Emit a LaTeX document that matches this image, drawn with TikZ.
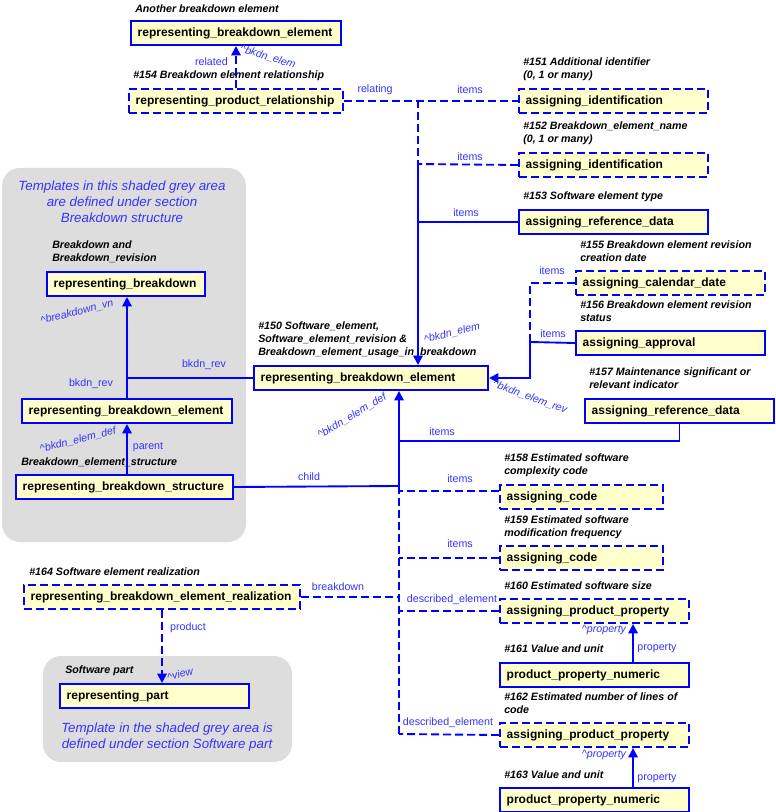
\documentclass[tikz,border=0pt]{standalone}
\usepackage{fontspec}
\setmainfont{Liberation Sans}
\usetikzlibrary{arrows.meta}
\definecolor{bblue}{RGB}{0,0,255}
\definecolor{lblue}{RGB}{51,51,255}
\definecolor{byel}{RGB}{255,255,204}
\definecolor{bgrey}{RGB}{221,221,221}
\begin{document}
\begin{tikzpicture}[x=0.75pt,y=-0.75pt,
  box/.style={draw=bblue, line width=1.5pt, fill=byel, font=\bfseries\fontsize{9}{11}\selectfont, anchor=north west, inner xsep=5pt, inner ysep=0pt, minimum height=18pt, align=left},
  dbox/.style={box, dash pattern=on 6pt off 3pt},
  capt/.style={font=\bfseries\itshape\fontsize{8}{9.75}\selectfont, anchor=west, align=left, inner sep=0pt},
  role/.style={text=lblue, font=\fontsize{8}{9.6}\selectfont, inner sep=0pt},
  irole/.style={text=lblue, font=\itshape\fontsize{8}{9.6}\selectfont, inner sep=0pt},
  note/.style={text=lblue, font=\itshape\fontsize{10}{12}\selectfont, align=center, inner sep=0pt},
  conn/.style={draw=bblue, line width=1.4pt},
  dconn/.style={conn, dash pattern=on 6pt off 3pt},
  arr/.style={-{Triangle[length=7pt,width=7pt]}},
  greyarea/.style={fill=bgrey, draw=none, rounded corners=13.5pt}
]
\useasboundingbox (0,0) rectangle (775,812);
% grey areas
\fill[greyarea] (2,168) rectangle (246,542);
\fill[greyarea] (43,656) rectangle (292,762);
\node[note] (n1) at (122,202) {Templates in this shaded grey area\\are defined under section\\Breakdown structure};
\node[note] (n2) at (167,737) {Template in the shaded grey area is\\defined under section Software part};

% boxes
\node[box, text width=147.5pt] (A) at (130,20) {representing\_breakdown\_element};
\node[dbox, text width=150.5pt] (B) at (128,88) {representing\_product\_relationship};
\node[dbox, text width=131.75pt] (C1) at (518,88) {assigning\_identification};
\node[dbox, text width=131.75pt] (C2) at (518,152) {assigning\_identification};
\node[box, text width=131.75pt] (C3) at (518,209) {assigning\_reference\_data};
\node[dbox, text width=131.75pt] (D) at (575,270) {assigning\_calendar\_date};
\node[box, text width=131.75pt] (E) at (575,330) {assigning\_approval};
\node[box, text width=131.75pt] (F) at (584,398) {assigning\_reference\_data};
\node[box, text width=165.5pt] (M) at (253,365) {representing\_breakdown\_element};
\node[box, text width=108.5pt] (H) at (46,271) {representing\_breakdown};
\node[box, text width=147.5pt] (I) at (21,398) {representing\_breakdown\_element};
\node[box, text width=152.75pt] (J) at (15,474) {representing\_breakdown\_structure};
\node[dbox, text width=112.25pt] (K1) at (499,484) {assigning\_code};
\node[dbox, text width=112.25pt] (K2) at (499,545) {assigning\_code};
\node[dbox, text width=131.75pt] (L1) at (499,598) {assigning\_product\_property};
\node[box, text width=131.75pt] (N1) at (499,662) {product\_property\_numeric};
\node[dbox, text width=131.75pt] (L2) at (499,722) {assigning\_product\_property};
\node[box, text width=131.75pt] (N2) at (499,787) {product\_property\_numeric};
\node[dbox, text width=197pt] (R) at (23,584) {representing\_breakdown\_element\_realization};
\node[box, text width=131.75pt] (P) at (59,683) {representing\_part};

% captions
\node[capt] (cA) at (135,9) {Another breakdown element};
\node[capt] (cB) at (133,76) {\#154 Breakdown element relationship};
\node[capt] (cC1) at (523,69.5) {\#151 Additional identifier\\(0, 1 or many)};
\node[capt] (cC2) at (523,133.5) {\#152 Breakdown\_element\_name\\(0, 1 or many)};
\node[capt] (cC3) at (523,197) {\#153 Software element type};
\node[capt] (cD) at (580,251.5) {\#155 Breakdown element revision\\creation date};
\node[capt] (cE) at (580,311.5) {\#156 Breakdown element revision\\status};
\node[capt] (cF) at (589,378.5) {\#157 Maintenance significant or\\relevant indicator};
\node[capt] (cM) at (258,339.5) {\#150 Software\_element,\\Software\_element\_revision \&\\Breakdown\_element\_usage\_in\_breakdown};
\node[capt] (cH) at (52,251.5) {Breakdown and\\Breakdown\_revision};
\node[capt] (cJ) at (21,462) {Breakdown\_element\_structure};
\node[capt] (cK1) at (504,465.5) {\#158 Estimated software\\complexity code};
\node[capt] (cK2) at (504,527) {\#159 Estimated software\\modification frequency};
\node[capt] (cL1) at (504,586) {\#160 Estimated software size};
\node[capt] (cN1) at (504,649) {\#161 Value and unit};
\node[capt] (cL2) at (504,703.5) {\#162 Estimated number of lines of\\code};
\node[capt] (cN2) at (504,775) {\#163 Value and unit};
\node[capt] (cR) at (29,572) {\#164 Software element realization};
\node[capt] (cP) at (65,671) {Software part};

% junctions
\coordinate (j1) at (418,100);
\coordinate (j2) at (418,164);
\coordinate (j3) at (530,342);
\coordinate (j4) at (399,441);
\coordinate (j5) at (399,486);
\coordinate (j6) at (399,734);

% connectors
\draw[dconn,arr] (B.north) -- (A.south);
\draw[dconn] (B.east) -- (C1.west);
\draw[dconn] (j1) -- (j2);
\draw[dconn] (C2.west) -- (j2);
\draw[conn] (j2) -- (C3.west -| j2);
\draw[conn,arr] (C3.west) -| (j1 |- M.north);
\draw[dconn] (D.west) -| (j3);
\draw[conn,arr] (E.west) -- (j3) |- (M.east);
\draw[conn,arr] (F.south) |- (j4) -- (j4 |- M.south);
\draw[conn] (J.east) -- (j5) -- (j4);
\draw[conn] (M.west) -- (M.west -| I.north);
\draw[conn,arr] (I.north) -- (I.north |- H.south);
\draw[conn,arr] (J.north -| I.north) -- (I.south);
\draw[dconn] (j5) -- (j6);
\draw[dconn] ([yshift=4.5pt]K1.west) -- ([yshift=4.5pt]K1.west -| j5);
\draw[dconn] (K2.west) -- (K2.west -| j5);
\draw[dconn] (L1.west) -- (L1.west -| j5);
\draw[dconn] (L2.west) -- (j6);
\draw[dconn] (R.east) -- (R.east -| j5);
\draw[dconn,arr] (R.south) -- (R.south |- P.north);
\draw[conn,arr] ([xshift=28.9pt]N1.north) -- ([xshift=28.9pt]L1.south);
\draw[conn,arr] ([xshift=28.9pt]N2.north) -- ([xshift=28.9pt]L2.south);

% role labels
\node[role, anchor=east] (r1) at (228,62) {related};
\node[irole, rotate=-17] (r2) at (268,57) {\textasciicircum bkdn\_elem};
\node[role] (r3) at (375,90) {relating};
\node[role] (r4) at (470,90) {items};
\node[role] (r5) at (470,157) {items};
\node[role] (r6) at (466,213) {items};
\node[role] (r7) at (552,271) {items};
\node[role] (r8) at (553,334) {items};
\node[irole, rotate=14] (r9) at (452,333) {\textasciicircum bkdn\_elem};
\node[irole, rotate=-20] (r10) at (530,397) {\textasciicircum bkdn\_elem\_rev};
\node[role] (r11) at (442,432) {items};
\node[role] (r12) at (204,365) {bkdn\_rev};
\node[role] (r13) at (91,384) {bkdn\_rev};
\node[irole, rotate=14] (r14) at (77,312) {\textasciicircum breakdown\_vn};
\node[irole, rotate=14] (r15) at (78,440) {\textasciicircum bkdn\_elem\_def};
\node[role] (r16) at (148,447) {parent};
\node[role] (r17) at (309,477) {child};
\node[irole, rotate=31] (r18) at (352,416) {\textasciicircum bkdn\_elem\_def};
\node[role] (r19) at (460,479) {items};
\node[role] (r20) at (460,544) {items};
\node[role] (r21) at (452,600) {described\_element};
\node[role] (r22) at (448,723) {described\_element};
\node[irole] (r23) at (604,630) {\textasciicircum property};
\node[role] (r24) at (657,648) {property};
\node[irole] (r25) at (604,755) {\textasciicircum property};
\node[role] (r26) at (657,778) {property};
\node[role] (r27) at (338,587) {breakdown};
\node[role] (r28) at (188,628) {product};
\node[irole, rotate=15] (r29) at (180,674) {\textasciicircum view};
\end{tikzpicture}
\end{document}
